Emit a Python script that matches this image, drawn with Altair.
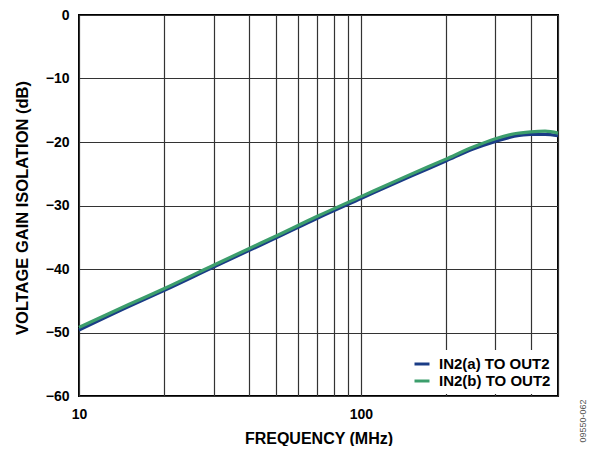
import altair as alt
import pandas as pd

freq_mhz = [10, 15, 20, 30, 40, 50, 70, 100, 150, 200, 250, 300, 350, 400, 450, 500]
gain_a = [-49.6, -45.9, -43.4, -39.7, -37.1, -35.1, -32.0, -28.9, -25.4, -23.0, -21.1, -19.9, -19.1, -18.8, -18.8, -19.0]
gain_b = [-49.2, -45.6, -43.1, -39.4, -36.8, -34.8, -31.7, -28.6, -25.1, -22.7, -20.8, -19.5, -18.7, -18.4, -18.3, -18.6]
series_names = ["IN2(a) TO OUT2", "IN2(b) TO OUT2"]
series_colors = ["#1a3c86", "#3c9e6c"]
x_grid = [10, 20, 30, 40, 50, 60, 70, 80, 90, 100, 200, 300, 400, 500]
y_ticks = [-60, -50, -40, -30, -20, -10, 0]

rows = []
for f, a, b in zip(freq_mhz, gain_a, gain_b):
    rows.append({"freq": f, "gain": a, "series": series_names[0]})
    rows.append({"freq": f, "gain": b, "series": series_names[1]})
df = pd.DataFrame(rows)

FONT = "Liberation Sans"
W, H = 479, 381

lines = alt.Chart(df).mark_line(strokeWidth=3.2, interpolate="monotone").encode(
    x=alt.X("freq:Q",
            scale=alt.Scale(type="log", domain=[10, 500], nice=False),
            axis=alt.Axis(values=x_grid, format="d",
                          labelExpr="datum.value == 10 || datum.value == 100 ? datum.label : ''",
                          labelFlush=False, labelOverlap=False, ticks=False, domain=False,
                          labelPadding=11, labelBaseline="top",
                          title="FREQUENCY (MHz)", titleX=W / 2, titleY=47, titleFontSize=16,
                          titleBaseline="alphabetic", titleAlign="center")),
    y=alt.Y("gain:Q",
            scale=alt.Scale(domain=[-60, 0], nice=False),
            axis=alt.Axis(values=y_ticks,
                          labelExpr="datum.value < 0 ? '\u2212' + abs(datum.value) : '0'",
                          ticks=False, domain=False, labelPadding=10,
                          title="VOLTAGE GAIN ISOLATION (dB)", titleX=-52, titleY=H / 2 + 2,
                          titleFontSize=16.5,
                          titleAngle=270, titleBaseline="alphabetic", titleAlign="center")),
    color=alt.Color("series:N",
                    scale=alt.Scale(domain=series_names, range=series_colors),
                    legend=alt.Legend(title=None, orient="bottom-right", offset=2,
                                      fillColor="white", padding=5,
                                      symbolType="stroke", symbolSize=225,
                                      symbolStrokeWidth=3, labelFontSize=15,
                                      labelFont=FONT, labelFontWeight="bold",
                                      labelColor="black", rowPadding=0, labelOffset=8)),
)

code_text = alt.Chart(pd.DataFrame({"t": ["09550-062"]})).mark_text(
    angle=270, font=FONT, fontSize=9, color="#555", align="center", baseline="middle"
).encode(text="t:N", x=alt.value(W + 25), y=alt.value(H + 25))

chart = alt.layer(lines, code_text).properties(
    width=W, height=H,
    autosize=alt.AutoSizeParams(type="none"),
    padding={"left": 71, "top": 7, "right": 30, "bottom": 50},
).configure_view(
    stroke="black", strokeWidth=2
).configure_axis(
    gridColor="#333", gridWidth=1.2, gridOpacity=1,
    labelFont=FONT, labelFontSize=14, labelFontWeight="bold", labelColor="black",
    titleFont=FONT, titleFontSize=15, titleFontWeight="bold", titleColor="black",
)

chart.save("out.html", embed_options={"renderer": "svg", "actions": False})
